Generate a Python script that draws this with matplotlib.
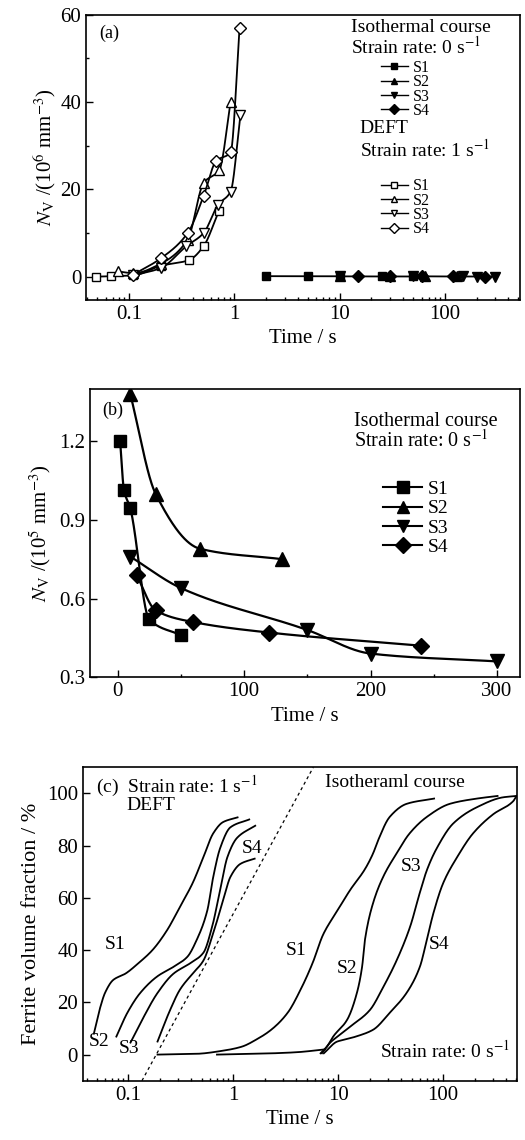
import numpy as np
import matplotlib
matplotlib.use("Agg")
import matplotlib.pyplot as plt
from matplotlib.ticker import LogLocator, NullFormatter, MultipleLocator, FixedLocator
from matplotlib.lines import Line2D

plt.rcParams['font.family'] = ['Liberation Serif', 'DejaVu Serif']
plt.rcParams['mathtext.fontset'] = 'stix'

# ---- panel (a): DEFT, strain rate 1 s^-1 (N_V in 10^6 mm^-3)
deft_t1 = [0.048, 0.067, 0.11, 0.2, 0.37, 0.51, 0.71]
deft_n1 = [0.0, 0.1, 0.3, 2.5, 3.8, 7.0, 15.0]
deft_t2 = [0.079, 0.11, 0.2, 0.36, 0.51, 0.72, 0.92]
deft_n2 = [1.2, 0.8, 3.0, 8.5, 21.5, 24.5, 40.0]
deft_t3 = [0.11, 0.2, 0.35, 0.51, 0.70, 0.92, 1.14]
deft_n3 = [0.3, 2.0, 7.0, 10.0, 16.5, 19.5, 37.0]
deft_t4 = [0.11, 0.2, 0.36, 0.51, 0.67, 0.92, 1.12]
deft_n4 = [0.5, 4.2, 10.0, 18.5, 26.5, 28.5, 57.0]

# ---- panel (b): isothermal course, strain rate 0 (N_V in 10^5 mm^-3)
iso_t1 = [2, 5, 10, 25, 50]
iso_n1 = [1.20, 1.015, 0.945, 0.52, 0.46]
iso_t2 = [10, 30, 65, 130]
iso_n2 = [1.38, 1.00, 0.79, 0.75]
iso_t3 = [10, 50, 150, 200, 300]
iso_n3 = [0.76, 0.64, 0.48, 0.39, 0.36]
iso_t4 = [15, 30, 60, 120, 240]
iso_n4 = [0.69, 0.555, 0.51, 0.47, 0.42]

# ---- panel (c): ferrite volume fraction curves (%)
cd_t1 = [0.047, 0.054, 0.060, 0.072, 0.094, 0.125, 0.17, 0.235, 0.31, 0.41, 0.52, 0.645, 0.80, 1.1]
cd_f1 = [8, 18, 23.6, 28.6, 31, 35, 40, 47.7, 56.5, 65.6, 75.6, 84.7, 89, 90.8]
cd_t2 = [0.077, 0.098, 0.13, 0.19, 0.27, 0.365, 0.45, 0.565, 0.645, 0.75, 0.94, 1.42]
cd_f2 = [6.9, 16, 23.6, 30, 33.6, 37.4, 44, 55, 68, 79, 87, 90]
cd_t3 = [0.105, 0.136, 0.19, 0.27, 0.39, 0.52, 0.63, 0.75, 0.88, 1.09, 1.62]
cd_f3 = [4.6, 13.4, 23.6, 31, 35, 39, 49, 63, 75.6, 83, 87.6]
cd_t4 = [0.19, 0.25, 0.31, 0.41, 0.52, 0.645, 0.80, 0.94, 1.17, 1.6]
cd_f4 = [5, 17, 24.8, 31, 36, 46.5, 59, 68, 73, 75]

ci_t1 = [0.19, 0.45, 0.8, 1.2, 1.7, 2.3, 3.3, 4.4, 5.7, 7.2, 9.8, 13, 18, 21.5, 24, 31, 45, 82]
ci_f1 = [0, 0.3, 1.5, 3, 6, 9.5, 16, 25, 35, 46, 55, 63, 71, 77, 82, 91, 96, 98]
ci_base_t = [0.7, 2.0, 4.0, 7.5]
ci_base_f = [0, 0.4, 0.9, 2.0]
ci_t2 = [6.8, 7.8, 9.0, 12.2, 15.1, 16.9, 18.0, 21.5, 26.8, 36, 48, 70, 116, 210, 330]
ci_f2 = [0.5, 3, 7, 13.4, 23.7, 33.6, 44, 58, 68, 77, 84.7, 91, 96, 98, 99]
ci_t3 = [7.0, 8.4, 10.4, 13, 20, 27, 36, 48.5, 60, 70, 87, 125, 210, 375, 500]
ci_f3 = [0.5, 4.6, 7.6, 10.7, 17, 26, 36, 49, 62, 70.6, 79, 88.5, 94.7, 98.5, 99]
ci_t4 = [7.3, 9.8, 11.5, 15, 21.5, 31, 45, 60, 70, 80.6, 100, 136, 193, 300, 465, 500]
ci_f4 = [0.5, 5, 5.7, 7, 9.5, 16, 23.7, 33.6, 44, 54, 65.6, 75.6, 84.7, 92, 97, 99]

dash_t = [0.135, 5.8]
dash_f = [-10, 110]


def pchip(x, y, xs):
    x = np.asarray(x, float)
    y = np.asarray(y, float)
    h = np.diff(x)
    d = np.diff(y) / h
    m = np.zeros_like(y)
    m[0], m[-1] = d[0], d[-1]
    for k in range(1, len(x) - 1):
        if d[k - 1] * d[k] > 0:
            w1 = 2 * h[k] + h[k - 1]
            w2 = h[k] + 2 * h[k - 1]
            m[k] = (w1 + w2) / (w1 / d[k - 1] + w2 / d[k])
    i = np.clip(np.searchsorted(x, xs) - 1, 0, len(x) - 2)
    s = (xs - x[i]) / h[i]
    h00 = 2 * s**3 - 3 * s**2 + 1
    h10 = s**3 - 2 * s**2 + s
    h01 = -2 * s**3 + 3 * s**2
    h11 = s**3 - s**2
    return h00 * y[i] + h10 * h[i] * m[i] + h01 * y[i + 1] + h11 * h[i] * m[i + 1]


def smooth(ax, t, v, log=True, **kw):
    t = np.asarray(t, float)
    if log:
        lx = np.log10(t)
        xs = np.linspace(lx[0], lx[-1], 300)
        ax.plot(10**xs, pchip(lx, v, xs), **kw)
    else:
        xs = np.linspace(t[0], t[-1], 300)
        ax.plot(xs, pchip(t, v, xs), **kw)


def style(ax):
    for s in ax.spines.values():
        s.set_linewidth(1.2)
    ax.tick_params(which='both', direction='in', top=False, right=False, labelsize=15, width=1.0)
    ax.tick_params(which='major', length=5)
    ax.tick_params(which='minor', length=2.5)


fig = plt.figure(figsize=(5.25, 11.4), dpi=100)
ax1 = fig.add_axes([0.164, 0.737, 0.827, 0.250])
ax2 = fig.add_axes([0.171, 0.406, 0.819, 0.253])
ax3 = fig.add_axes([0.158, 0.052, 0.827, 0.275])

lw = 1.3
filled = ['s', '^', 'v', 'D']
sizes_a = [6, 7, 7, 6]
labels = ['S1', 'S2', 'S3', 'S4']

# ---------------- (a)
deft_t = [deft_t1, deft_t2, deft_t3, deft_t4]
deft_n = [deft_n1, deft_n2, deft_n3, deft_n4]
iso_t = [iso_t1, iso_t2, iso_t3, iso_t4]
iso_n = [iso_n1, iso_n2, iso_n3, iso_n4]
for k in range(4):
    smooth(ax1, deft_t[k], deft_n[k], color='k', lw=lw)
    ax1.plot(deft_t[k], deft_n[k], filled[k], ms=sizes_a[k], mfc='white', mec='k', mew=1.0, ls='none')
all_t = np.concatenate(iso_t)
order = np.argsort(all_t)
all_n = np.concatenate(iso_n) * 0.1
ax1.plot(all_t[order], all_n[order], color='k', lw=lw)
for k in range(4):
    ax1.plot(iso_t[k], np.asarray(iso_n[k]) * 0.1, filled[k], ms=sizes_a[k], color='k', ls='none')

ax1.set_xscale('log')
ax1.set_xlim(0.039, 520)
ax1.set_ylim(-5.3, 60)
ax1.set_yticks([0, 20, 40, 60])
ax1.yaxis.set_minor_locator(FixedLocator([10, 30, 50]))
ax1.xaxis.set_major_locator(FixedLocator([0.1, 1, 10, 100]))
ax1.set_xticklabels(['0.1', '1', '10', '100'])
ax1.xaxis.set_minor_locator(LogLocator(base=10, subs=np.arange(2, 10)))
ax1.xaxis.set_minor_formatter(NullFormatter())
ax1.set_xlabel('Time / s', fontsize=15)
ax1.set_ylabel(r'$N_{\rm V}$ /(10$^6$ mm$^{-3}$)', fontsize=15, labelpad=2)
style(ax1)
ax1.text(0.03, 0.965, '(a)', transform=ax1.transAxes, fontsize=13, va='top')

ax1.text(0.61, 0.985, 'Isothermal course\nStrain rate: 0 s$^{-1}$', transform=ax1.transAxes,
         fontsize=14, ha='left', va='top', linespacing=0.95)
h_f = [Line2D([], [], color='k', marker=filled[k], ms=5, lw=1.0) for k in range(4)]
lg1 = ax1.legend(h_f, labels, loc='upper left', bbox_to_anchor=(0.66, 0.87), frameon=False,
                 fontsize=11.5, handlelength=1.7, handletextpad=0.3, labelspacing=-0.1, borderpad=0)
ax1.add_artist(lg1)
ax1.text(0.63, 0.60, 'DEFT', transform=ax1.transAxes, fontsize=14, ha='left', va='center')
ax1.text(0.63, 0.528, 'Strain rate: 1 s$^{-1}$', transform=ax1.transAxes, fontsize=14, ha='left', va='center')
h_o = [Line2D([], [], color='k', marker=filled[k], ms=5, lw=1.0, mfc='white') for k in range(4)]
ax1.legend(h_o, labels, loc='upper left', bbox_to_anchor=(0.66, 0.455), frameon=False,
           fontsize=11.5, handlelength=1.7, handletextpad=0.3, labelspacing=-0.1, borderpad=0)

# ---------------- (b)
sizes_b = [9, 10, 10, 8]
for k in range(4):
    smooth(ax2, iso_t[k], iso_n[k], log=False, color='k', lw=lw + 0.3)
    ax2.plot(iso_t[k], iso_n[k], filled[k], ms=sizes_b[k], color='k', ls='none')
ax2.set_xlim(-22, 318)
ax2.set_ylim(0.3, 1.4)
ax2.set_xticks([0, 100, 200, 300])
ax2.xaxis.set_minor_locator(MultipleLocator(50))
ax2.set_yticks([0.3, 0.6, 0.9, 1.2])
ax2.set_yticklabels(['0.3', '0.6', '0.9', '1.2'])
ax2.set_xlabel('Time / s', fontsize=15)
ax2.set_ylabel(r'$N_{\rm V}$ /(10$^5$ mm$^{-3}$)', fontsize=15, labelpad=4)
style(ax2)
ax2.text(0.03, 0.955, '(b)', transform=ax2.transAxes, fontsize=13, va='top')
ax2.text(0.615, 0.92, 'Isothermal course\nStrain rate: 0 s$^{-1}$', transform=ax2.transAxes,
         fontsize=14.5, ha='left', va='top', linespacing=0.95)
h_b = [Line2D([], [], color='k', marker=filled[k], ms=8, lw=1.5) for k in range(4)]
ax2.legend(h_b, labels, loc='upper left', bbox_to_anchor=(0.66, 0.715), frameon=False,
           fontsize=14, handlelength=2.0, handletextpad=0.3, labelspacing=0.08, borderpad=0)

# ---------------- (c)
c_def = [(cd_t1, cd_f1), (cd_t2, cd_f2), (cd_t3, cd_f3), (cd_t4, cd_f4)]
c_iso = [(ci_t1, ci_f1), (ci_base_t, ci_base_f), (ci_t2, ci_f2), (ci_t3, ci_f3), (ci_t4, ci_f4)]
for t, f in c_def + c_iso:
    smooth(ax3, t, f, color='k', lw=lw)
ax3.plot(dash_t, dash_f, color='k', lw=0.9, ls=(0, (2.5, 2.5)))
ax3.set_xscale('log')
ax3.set_xlim(0.037, 507)
ax3.set_ylim(-10, 110)
ax3.set_yticks([0, 20, 40, 60, 80, 100])
ax3.xaxis.set_major_locator(FixedLocator([0.1, 1, 10, 100]))
ax3.set_xticklabels(['0.1', '1', '10', '100'])
ax3.xaxis.set_minor_locator(LogLocator(base=10, subs=np.arange(2, 10)))
ax3.xaxis.set_minor_formatter(NullFormatter())
ax3.set_xlabel('Time / s', fontsize=15)
ax3.set_ylabel('Ferrite volume fraction / %', fontsize=16, labelpad=4)
style(ax3)
ax3.text(0.03, 0.98, '(c)  Strain rate: 1 s$^{-1}$', transform=ax3.transAxes, fontsize=14, va='top')
ax3.text(0.10, 0.905, 'DEFT', transform=ax3.transAxes, fontsize=14, va='top')
ax3.text(35, 104, 'Isotheraml course', fontsize=14, ha='center', va='center')
ax3.text(0.985, 0.06, 'Strain rate: 0 s$^{-1}$', transform=ax3.transAxes, fontsize=14, ha='right', va='bottom')
lab_c = [('S1', 0.075, 42), ('S2', 0.053, 5), ('S3', 0.102, 2.5), ('S4', 1.5, 79),
         ('S1', 4.0, 40), ('S2', 12.2, 33), ('S3', 50, 72), ('S4', 92, 42)]
for s, x, y in lab_c:
    ax3.text(x, y, s, fontsize=14, ha='center', va='center')

fig.savefig('out.png', dpi=100)
